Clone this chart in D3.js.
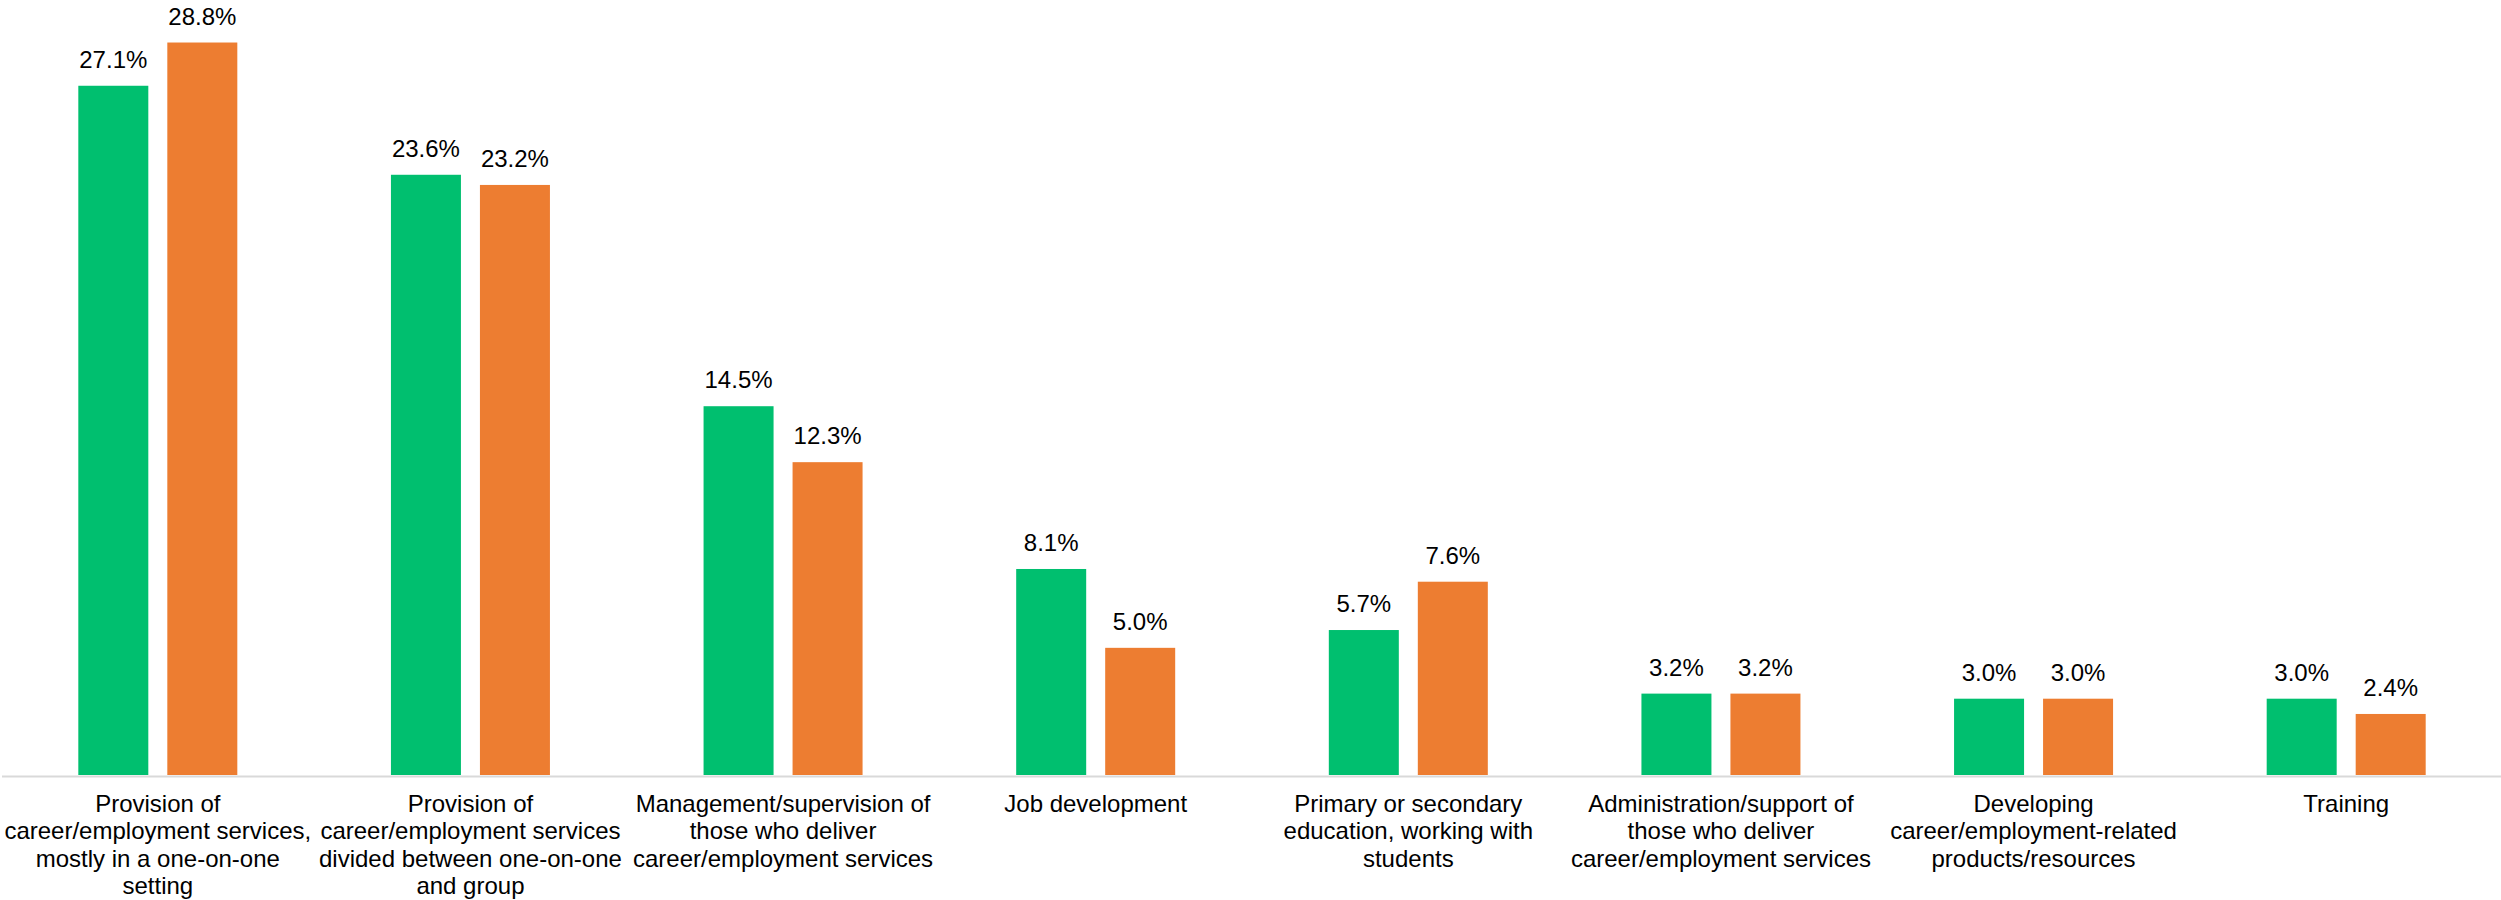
<!DOCTYPE html>
<html>
<head>
<meta charset="utf-8">
<script src="https://cdn.jsdelivr.net/npm/d3@7/dist/d3.min.js"></script>
<style>
  html, body { margin: 0; padding: 0; background: #ffffff; }
  svg { display: block; }
  text { font-family: "Liberation Sans", Arial, sans-serif; fill: #000000; }
</style>
</head>
<body>
<svg id="chart" width="2501" height="900"></svg>
<script>
// Primary work role categories (each label split into its display lines)
const categoryLabels = [
  ["Provision of", "career/employment services,", "mostly in a one-on-one", "setting"],
  ["Provision of", "career/employment services", "divided between one-on-one", "and group"],
  ["Management/supervision of", "those who deliver", "career/employment services"],
  ["Job development"],
  ["Primary or secondary", "education, working with", "students"],
  ["Administration/support of", "those who deliver", "career/employment services"],
  ["Developing", "career/employment-related", "products/resources"],
  ["Training"]
];
const categories = categoryLabels.map(lines => lines.join(" "));

// Two series, percent of respondents
const seriesKeys = ["first", "second"];
const firstValues  = [27.1, 23.6, 14.5, 8.1, 5.7, 3.2, 3.0, 3.0];
const secondValues = [28.8, 23.2, 12.3, 5.0, 7.6, 3.2, 3.0, 2.4];
const seriesColors = ["#00bf6f", "#ed7d31"];

const rows = categories.map((c, i) => ({
  category: c,
  lines: categoryLabels[i],
  first: firstValues[i],
  second: secondValues[i]
}));

const svg = d3.select("#chart");
const baseline = 775;

const x0 = d3.scaleBand()
  .domain(categories)
  .range([1.5, 2502.5])
  .paddingInner(0.4914)
  .paddingOuter(0.2457);

const x1 = d3.scaleBand()
  .domain(seriesKeys)
  .range([0, x0.bandwidth()])
  .paddingInner(0.2135)
  .paddingOuter(0);

const y = d3.scaleLinear()
  .domain([0, 30])
  .range([baseline, 12]);

const color = d3.scaleOrdinal().domain(seriesKeys).range(seriesColors);
const fmt = d => d.toFixed(1) + "%";

// Bars and value labels
const groups = svg.append("g")
  .selectAll("g")
  .data(rows)
  .join("g")
  .attr("transform", d => `translate(${x0(d.category)},0)`);

const cells = groups.selectAll("g")
  .data(d => seriesKeys.map(k => ({ key: k, value: d[k] })))
  .join("g");

cells.append("rect")
  .attr("x", d => x1(d.key))
  .attr("y", d => y(d.value))
  .attr("width", x1.bandwidth())
  .attr("height", d => baseline - y(d.value))
  .attr("fill", d => color(d.key));

cells.append("text")
  .attr("x", d => x1(d.key) + x1.bandwidth() / 2)
  .attr("y", d => y(d.value) - 18)
  .attr("text-anchor", "middle")
  .style("font-size", "24px")
  .text(d => fmt(d.value));

// Category axis
const xAxis = svg.append("g")
  .attr("transform", `translate(0,${baseline + 1})`)
  .call(d3.axisBottom(x0).tickSize(0).tickSizeOuter(0).tickFormat(""));

xAxis.select(".domain")
  .attr("stroke", "#d9d9d9")
  .attr("stroke-width", 2);

xAxis.selectAll(".tick text").remove();
xAxis.selectAll(".tick")
  .append("text")
  .attr("text-anchor", "middle")
  .style("font-size", "24px")
  .attr("fill", "#000")
  .selectAll("tspan")
  .data(c => categoryLabels[categories.indexOf(c)])
  .join("tspan")
  .attr("x", 0)
  .attr("y", (d, i) => 36 + i * 27.3)
  .text(d => d);
</script>
</body>
</html>
